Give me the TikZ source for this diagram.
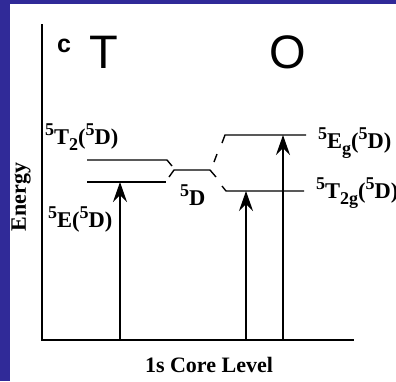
\documentclass[tikz,border=0pt]{standalone}
\usepackage{fontspec}
\setmainfont{Liberation Serif}
\newfontfamily\arialfont{Liberation Sans}
\usetikzlibrary{arrows.meta}
\definecolor{slideblue}{RGB}{48,42,152}
\newcommand{\upidx}[1]{\raisebox{0.4em}{\fontsize{18}{18}\selectfont #1}}
\newcommand{\dnidx}[1]{\raisebox{-0.28em}{\fontsize{18}{18}\selectfont #1}}

\begin{document}
\begin{tikzpicture}[x=1pt,y=-1pt,
        level/.style={line width=1.4pt},
        lbl/.style={anchor=base west, inner sep=0pt, font=\bfseries\fontsize{22.5}{24}\selectfont},
        excite/.style={line width=1.2pt, -{Stealth[length=20pt,width=14pt,inset=7pt]}}]
    \useasboundingbox (0,0) rectangle (396,381);
    \fill[slideblue] (0,0) rectangle (396,381);
    \fill[white] (10,4) rectangle (396,381);

    % axes
    \coordinate (ytop) at (42,24);
    \coordinate (origin) at (42,340);
    \coordinate (xend) at (354,340);
    \draw[line width=1.4pt] (ytop) -- (origin) -- (xend);

    \node[font=\arialfont\bfseries\fontsize{25}{26}\selectfont, inner sep=0pt] (panel) at (64,46) {c};
    \node[font=\arialfont\fontsize{47}{50}\selectfont, inner sep=0pt] (tetra) at (104,52) {T};
    \node[font=\arialfont\fontsize{47}{50}\selectfont, inner sep=0pt] (octa) at (288,52) {O};

    % levels
    \draw[level] (87,160) -- (167,160) -- (172,166);
    \draw[level] (87,182) -- (166,182);
    \draw[level] (169,177) -- (174,170) -- (210,170) -- (216,177);
    \draw[level] (214,162) -- (217,154);
    \draw[level] (222,143) -- (225,135) -- (306,135);
    \draw[level] (222,186) -- (226,191) -- (304,191);

    % transitions
    \coordinate (tbase) at (120,340);
    \coordinate (etop) at (120,182);
    \coordinate (obase1) at (246,340);
    \coordinate (t2gtop) at (246,191);
    \coordinate (obase2) at (283,340);
    \coordinate (egtop) at (283,135);
    \draw[excite] (tbase) -- (etop);
    \draw[excite] (obase1) -- (t2gtop);
    \draw[excite] (obase2) -- (egtop);

    \node[lbl] (t2) at (45,144) {\upidx{5}T\dnidx{2}(\upidx{5}D)};
    \node[lbl] (e) at (48,227) {\upidx{5}E(\upidx{5}D)};
    \node[lbl] (free) at (180,205) {\upidx{5}D};
    \node[lbl] (eg) at (318,148) {\upidx{5}E\dnidx{g}(\upidx{5}D)};
    \node[lbl] (t2g) at (316,198) {\upidx{5}T\dnidx{2g}(\upidx{5}D)};

    \node[rotate=90, font=\bfseries\fontsize{22}{24}\selectfont] (energy) at (21,197) {Energy};
    \node[font=\bfseries\fontsize{22}{24}\selectfont] (core) at (209,365) {1s Core Level};
\end{tikzpicture}
\end{document}
